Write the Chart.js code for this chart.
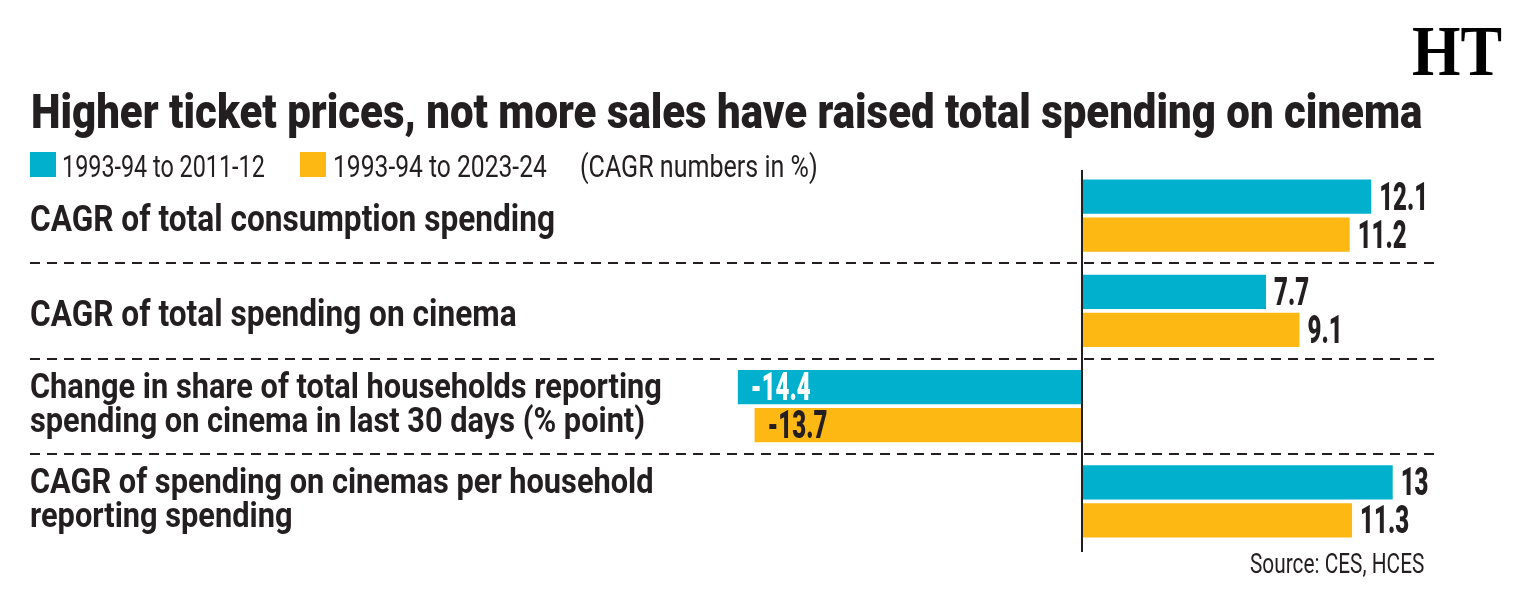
<!DOCTYPE html>
<html>
<head>
<meta charset="utf-8">
<title>Higher ticket prices, not more sales have raised total spending on cinema</title>
<script src="https://cdn.jsdelivr.net/npm/chart.js@4/dist/chart.umd.min.js"></script>
<style>
  html, body { margin: 0; padding: 0; background: #fff; }
  body { width: 1530px; height: 589px; position: relative; overflow: hidden; font-family: Roboto, "Noto Sans", sans-serif; color: #231f20; }
  #chartBox { position: absolute; left: 0; top: 0; width: 1530px; height: 589px; }
  .txt { position: absolute; white-space: nowrap; line-height: 1; transform-origin: 0 0; }
  #title { font-size: 48px; font-weight: 900; }
  .leg { font-size: 32px; font-weight: 400; }
  .swatch { position: absolute; width: 26px; height: 25px; top: 152px; }
  #source { font-size: 28px; font-weight: 400; }
  #logo { font-family: "Liberation Serif", "DejaVu Serif", serif; font-size: 72px; font-weight: 700; color: #000; }
</style>
</head>
<body>
<div id="chartBox"><canvas id="cinemaChart" width="1530" height="589"></canvas></div>

<div id="logo" class="txt">HT</div>
<div id="title" class="txt">Higher ticket prices, not more sales have raised total spending on cinema</div>
<div class="swatch" style="left:30px;background:#00b0cc"></div>
<div id="leg1" class="txt leg">1993-94 to 2011-12</div>
<div class="swatch" style="left:300px;background:#fdb813"></div>
<div id="leg2" class="txt leg">1993-94 to 2023-24</div>
<div id="leg3" class="txt leg">(CAGR numbers in %)</div>
<div id="source" class="txt">Source: CES, HCES</div>

<script>
// data
const categories = [
  ["CAGR of total consumption spending"],
  ["CAGR of total spending on cinema"],
  ["Change in share of total households reporting", "spending on cinema in last 30 days (% point)"],
  ["CAGR of spending on cinemas per household", "reporting spending"]
];
const seriesNames = ["1993-94 to 2011-12", "1993-94 to 2023-24"];
const values2011 = [12.1, 7.7, -14.4, 13];
const values2023 = [11.2, 9.1, -13.7, 11.3];

const TEAL = "#00b0cc";
const YELLOW = "#fdb813";
const INK = "#231f20";

// put html text on a baseline and squeeze it to the width seen in the picture
function placeText(id, x, baseline, width) {
  const el = document.getElementById(id);
  const probe = document.createElement("span");
  probe.style.cssText = "display:inline-block;width:0;height:0;vertical-align:baseline;";
  el.appendChild(probe);
  const base = probe.offsetTop;
  const w = el.offsetWidth;
  el.style.left = x + "px";
  el.style.top = (baseline - base) + "px";
  el.style.transform = "scaleX(" + (width / w) + ")";
}

function drawSqueezed(ctx, text, x, y, sx) {
  ctx.save();
  ctx.translate(x, y);
  ctx.scale(sx, 1);
  ctx.fillText(text, 0, 0);
  ctx.restore();
}

const decor = {
  id: "decor",
  afterDraw(chart) {
    const ctx = chart.ctx;
    const x = chart.scales.x;
    const y = chart.scales.y;
    const zero = x.getPixelForValue(0);

    ctx.save();
    // dashed separators between the groups
    ctx.strokeStyle = INK;
    ctx.lineWidth = 2;
    ctx.setLineDash([10, 7]);
    for (let i = 0; i < categories.length - 1; i++) {
      const yy = Math.round((y.getPixelForValue(i) + y.getPixelForValue(i + 1)) / 2);
      ctx.beginPath();
      ctx.moveTo(30, yy);
      ctx.lineTo(1438, yy);
      ctx.stroke();
    }
    ctx.setLineDash([]);

    // zero line
    ctx.beginPath();
    ctx.moveTo(zero, chart.chartArea.top + 2);
    ctx.lineTo(zero, chart.chartArea.bottom + 3);
    ctx.stroke();

    // category labels on the left
    ctx.fillStyle = INK;
    ctx.font = "bold 36px Roboto";
    ctx.textAlign = "left";
    ctx.textBaseline = "alphabetic";
    const catScale = 525 / ctx.measureText(categories[0][0]).width;
    categories.forEach((lines, i) => {
      const cy = y.getPixelForValue(i);
      if (lines.length === 1) {
        ctx.font = "bold 36px Roboto";
        drawSqueezed(ctx, lines[0], 30, cy + 15, catScale);
      } else {
        ctx.font = "bold 35px Roboto";
        drawSqueezed(ctx, lines[0], 30, cy - 8, catScale);
        drawSqueezed(ctx, lines[1], 30, cy + 26, catScale);
      }
    });

    // value labels
    ctx.font = "900 38px Roboto";
    const valScale = 49 / ctx.measureText("12.1").width;
    chart.data.datasets.forEach((ds, di) => {
      const meta = chart.getDatasetMeta(di);
      meta.data.forEach((bar, i) => {
        const v = ds.data[i];
        const txt = String(v);
        if (v >= 0) {
          ctx.fillStyle = INK;
          drawSqueezed(ctx, txt, bar.x + 8, bar.y + 13, valScale);
        } else {
          ctx.fillStyle = di === 0 ? "#ffffff" : INK;
          drawSqueezed(ctx, txt, bar.x + 13, bar.y + 13, valScale);
        }
      });
    });
    ctx.restore();
  }
};

function renderChart() {
  const ctx = document.getElementById("cinemaChart").getContext("2d");
  new Chart(ctx, {
    type: "bar",
    data: {
      labels: categories,
      datasets: [
        { label: seriesNames[0], data: values2011, backgroundColor: TEAL, categoryPercentage: 0.8, barPercentage: 0.9 },
        { label: seriesNames[1], data: values2023, backgroundColor: YELLOW, categoryPercentage: 0.8, barPercentage: 0.9 }
      ]
    },
    options: {
      responsive: false,
      animation: false,
      indexAxis: "y",
      layout: { padding: { left: 723.5, right: 89.5, top: 168, bottom: 40 } },
      plugins: {
        legend: { display: false },
        tooltip: { enabled: false }
      },
      scales: {
        x: { min: -15, max: 15, display: false },
        y: { display: false }
      }
    },
    plugins: [decor]
  });
}

document.fonts.ready.then(() => {
  placeText("logo", 1412, 75, 90);
  placeText("title", 31, 128, 1391);
  placeText("leg1", 62, 177, 203);
  placeText("leg2", 333, 177, 214);
  placeText("leg3", 580, 177, 238);
  placeText("source", 1250, 573, 174);
  renderChart();
});
</script>
</body>
</html>
